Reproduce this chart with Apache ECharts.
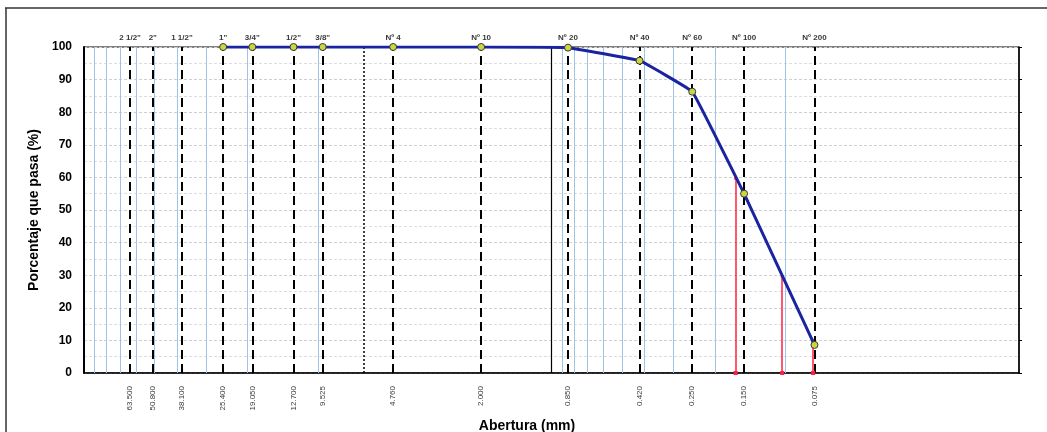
<!DOCTYPE html>
<html><head><meta charset="utf-8">
<script src="https://cdn.jsdelivr.net/npm/echarts@6/dist/echarts.min.js"></script>
<style>html,body{margin:0;padding:0;background:#fff}#c{width:1047px;height:432px}</style>
</head><body><div id="c"></div>
<script>
const sieveSizes = [63.5, 50.8, 38.1, 25.4, 19.05, 12.7, 9.525, 4.76, 2.0, 0.85, 0.42, 0.25, 0.15, 0.075];
const sieveNames = ['2 1/2"', '2"', '1 1/2"', '1"', '3/4"', '1/2"', '3/8"', 'Nº 4', 'Nº 10', 'Nº 20', 'Nº 40', 'Nº 60', 'Nº 100', 'Nº 200'];
const sieveLabels = ['63.500', '50.800', '38.100', '25.400', '19.050', '12.700', '9.525', '4.760', '2.000', '0.850', '0.420', '0.250', '0.150', '0.075'];
const testSizes = [25.4, 19.05, 12.7, 9.525, 4.76, 2.0, 0.85, 0.42, 0.25, 0.15, 0.075];
const percentPassing = [100, 100, 100, 100, 100, 100, 99.8, 95.8, 86.3, 55.0, 8.6];
const blueGridValues = [90, 80, 70, 60, 50, 40, 30, 20, 10, 0.9, 0.8, 0.7, 0.6, 0.5, 0.4, 0.3, 0.2, 0.1];
const dottedLineValues = [6.35];
const solidLineValues = [1.0];
const dSizes = [0.163, 0.103, 0.076];
const dPercents = [60, 30, 10];

const FONT = 'Liberation Sans, Arial, sans-serif';
const chart = echarts.init(document.getElementById('c'), null, {renderer: 'canvas'});

const vLines = (vals, style) => ({
  type: 'line', data: [], symbol: 'none', silent: true, z: 1,
  markLine: {silent: true, symbol: 'none', animation: false, precision: 6, label: {show: false},
    lineStyle: style, data: vals.map(v => ({xAxis: v}))}
});

const option = {
  animation: false,
  backgroundColor: '#fff',
  title: {text: 'Abertura (mm)', left: 522, top: 414, textAlign: 'center',
    textStyle: {fontFamily: FONT, fontWeight: 'bold', fontSize: 14, color: '#000'}},
  grid: {left: 84, right: 28, top: 47, bottom: 59, show: true, borderColor: '#000', borderWidth: 1},
  xAxis: {
    type: 'log', logBase: 10, min: 0.01, max: 100, inverse: true,
    axisLine: {show: true, onZero: false, lineStyle: {color: '#000', width: 1.5}},
    axisTick: {show: false}, axisLabel: {show: false}, splitLine: {show: false}
  },
  yAxis: [{
    type: 'value', min: 0, max: 100, interval: 10,
    name: 'Porcentaje que pasa (%)', nameLocation: 'middle', nameGap: 42,
    nameTextStyle: {fontFamily: FONT, fontWeight: 'bold', fontSize: 14, color: '#000'},
    axisLine: {show: true, lineStyle: {color: '#000', width: 2}},
    axisTick: {show: false},
    axisLabel: {fontFamily: FONT, fontWeight: 'bold', fontSize: 12, color: '#000', margin: 12},
    splitLine: {show: true, lineStyle: {color: '#cfcfcf', type: [3, 2], width: 1}},
    minorTick: {show: false, splitNumber: 2},
    minorSplitLine: {show: true, lineStyle: {color: '#dddddd', type: [3, 2], width: 1}}
  }, {
    type: 'value', min: 0, max: 100, interval: 10, position: 'right',
    axisLine: {show: true, lineStyle: {color: '#000', width: 1.5}},
    axisTick: {show: true, length: 3, lineStyle: {color: '#000'}},
    axisLabel: {show: false}, splitLine: {show: false}
  }],
  graphic: [
    {type: 'line', shape: {x1: 5, y1: 8, x2: 1047, y2: 8}, style: {stroke: '#333', lineWidth: 1.5}, z: 100},
    {type: 'line', shape: {x1: 6, y1: 8, x2: 6, y2: 432}, style: {stroke: '#333', lineWidth: 1.5}, z: 100}
  ],
  series: [
    vLines(blueGridValues, {color: '#9fc3e6', width: 1, type: 'solid'}),
    vLines(dottedLineValues, {color: '#000', width: 1.5, type: [2, 2]}),
    vLines(solidLineValues, {color: '#000', width: 1.2, type: 'solid'}),
    vLines(sieveSizes, {color: '#000', width: 2, type: [9, 5]}),
    {
      type: 'scatter', symbolSize: 0, silent: true, z: 5,
      data: sieveSizes.map(s => [s, 100]),
      label: {show: true, position: 'top', distance: 5, formatter: p => sieveNames[p.dataIndex],
        fontFamily: FONT, fontWeight: 'bold', fontSize: 8, color: '#000'}
    },
    {
      type: 'scatter', symbolSize: 0, silent: true, z: 5,
      data: sieveSizes.map(s => [s, 0]),
      label: {show: true, position: 'bottom', distance: 13, rotate: 90, align: 'right', verticalAlign: 'middle',
        formatter: p => sieveLabels[p.dataIndex], fontFamily: FONT, fontSize: 8, color: '#000'}
    },
    {
      type: 'line', data: [], symbol: 'none', silent: true, z: 6,
      markLine: {silent: true, animation: false, precision: 6, symbol: ['rect', 'triangle'], symbolSize: [4, 4],
        label: {show: false}, lineStyle: {color: '#ff2040', width: 1.5, type: 'solid'},
        data: dSizes.map((d, i) => [{coord: [d, 0]}, {coord: [d, dPercents[i]]}])}
    },
    {
      type: 'line', z: 10, smooth: 0.06,
      data: testSizes.map((s, i) => [s, percentPassing[i]]),
      lineStyle: {color: '#1a24a0', width: 3},
      symbol: 'circle', symbolSize: 7, showSymbol: true,
      itemStyle: {color: '#cbd640', borderColor: '#3a3a3a', borderWidth: 1}
    }
  ]
};
chart.setOption(option);
</script></body></html>
